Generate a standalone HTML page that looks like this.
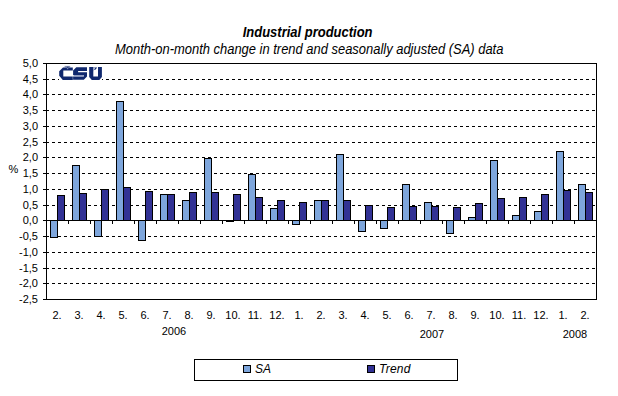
<!DOCTYPE html>
<html><head><meta charset="utf-8"><style>
html,body{margin:0;padding:0;background:#fff;}
svg{display:block;}
text{font-family:"Liberation Sans",sans-serif;fill:#000;}
</style></head><body>
<svg width="618" height="396" viewBox="0 0 618 396">
<rect x="0" y="0" width="618" height="396" fill="#fff"/>
<g shape-rendering="crispEdges">
<line x1="46" y1="79.5" x2="596" y2="79.5" stroke="#000" stroke-width="1" stroke-dasharray="3 3"/>
<line x1="46" y1="94.5" x2="596" y2="94.5" stroke="#000" stroke-width="1" stroke-dasharray="3 3"/>
<line x1="46" y1="110.5" x2="596" y2="110.5" stroke="#000" stroke-width="1" stroke-dasharray="3 3"/>
<line x1="46" y1="126.5" x2="596" y2="126.5" stroke="#000" stroke-width="1" stroke-dasharray="3 3"/>
<line x1="46" y1="142.5" x2="596" y2="142.5" stroke="#000" stroke-width="1" stroke-dasharray="3 3"/>
<line x1="46" y1="157.5" x2="596" y2="157.5" stroke="#000" stroke-width="1" stroke-dasharray="3 3"/>
<line x1="46" y1="173.5" x2="596" y2="173.5" stroke="#000" stroke-width="1" stroke-dasharray="3 3"/>
<line x1="46" y1="189.5" x2="596" y2="189.5" stroke="#000" stroke-width="1" stroke-dasharray="3 3"/>
<line x1="46" y1="205.5" x2="596" y2="205.5" stroke="#000" stroke-width="1" stroke-dasharray="3 3"/>
<line x1="46" y1="236.5" x2="596" y2="236.5" stroke="#000" stroke-width="1" stroke-dasharray="3 3"/>
<line x1="46" y1="252.5" x2="596" y2="252.5" stroke="#000" stroke-width="1" stroke-dasharray="3 3"/>
<line x1="46" y1="268.5" x2="596" y2="268.5" stroke="#000" stroke-width="1" stroke-dasharray="3 3"/>
<line x1="46" y1="283.5" x2="596" y2="283.5" stroke="#000" stroke-width="1" stroke-dasharray="3 3"/>
<rect x="50" y="220" width="8" height="18" fill="#000"/>
<rect x="51" y="221" width="6" height="16" fill="#7EA6DC"/>
<rect x="72" y="165" width="8" height="56" fill="#000"/>
<rect x="73" y="166" width="6" height="54" fill="#7EA6DC"/>
<rect x="94" y="220" width="8" height="17" fill="#000"/>
<rect x="95" y="221" width="6" height="15" fill="#7EA6DC"/>
<rect x="116" y="101" width="8" height="120" fill="#000"/>
<rect x="117" y="102" width="6" height="118" fill="#7EA6DC"/>
<rect x="138" y="220" width="8" height="21" fill="#000"/>
<rect x="139" y="221" width="6" height="19" fill="#7EA6DC"/>
<rect x="160" y="194" width="8" height="27" fill="#000"/>
<rect x="161" y="195" width="6" height="25" fill="#7EA6DC"/>
<rect x="182" y="200" width="8" height="21" fill="#000"/>
<rect x="183" y="201" width="6" height="19" fill="#7EA6DC"/>
<rect x="204" y="158" width="8" height="63" fill="#000"/>
<rect x="205" y="159" width="6" height="61" fill="#7EA6DC"/>
<rect x="226" y="220" width="8" height="2" fill="#000"/>
<rect x="248" y="174" width="8" height="47" fill="#000"/>
<rect x="249" y="175" width="6" height="45" fill="#7EA6DC"/>
<rect x="270" y="208" width="8" height="13" fill="#000"/>
<rect x="271" y="209" width="6" height="11" fill="#7EA6DC"/>
<rect x="292" y="220" width="8" height="5" fill="#000"/>
<rect x="293" y="221" width="6" height="3" fill="#7EA6DC"/>
<rect x="314" y="200" width="8" height="21" fill="#000"/>
<rect x="315" y="201" width="6" height="19" fill="#7EA6DC"/>
<rect x="336" y="154" width="8" height="67" fill="#000"/>
<rect x="337" y="155" width="6" height="65" fill="#7EA6DC"/>
<rect x="358" y="220" width="8" height="12" fill="#000"/>
<rect x="359" y="221" width="6" height="10" fill="#7EA6DC"/>
<rect x="380" y="220" width="8" height="9" fill="#000"/>
<rect x="381" y="221" width="6" height="7" fill="#7EA6DC"/>
<rect x="402" y="184" width="8" height="37" fill="#000"/>
<rect x="403" y="185" width="6" height="35" fill="#7EA6DC"/>
<rect x="424" y="202" width="8" height="19" fill="#000"/>
<rect x="425" y="203" width="6" height="17" fill="#7EA6DC"/>
<rect x="446" y="220" width="8" height="14" fill="#000"/>
<rect x="447" y="221" width="6" height="12" fill="#7EA6DC"/>
<rect x="468" y="217" width="8" height="4" fill="#000"/>
<rect x="469" y="218" width="6" height="2" fill="#7EA6DC"/>
<rect x="490" y="160" width="8" height="61" fill="#000"/>
<rect x="491" y="161" width="6" height="59" fill="#7EA6DC"/>
<rect x="512" y="215" width="8" height="6" fill="#000"/>
<rect x="513" y="216" width="6" height="4" fill="#7EA6DC"/>
<rect x="534" y="211" width="8" height="10" fill="#000"/>
<rect x="535" y="212" width="6" height="8" fill="#7EA6DC"/>
<rect x="556" y="151" width="8" height="70" fill="#000"/>
<rect x="557" y="152" width="6" height="68" fill="#7EA6DC"/>
<rect x="578" y="184" width="8" height="37" fill="#000"/>
<rect x="579" y="185" width="6" height="35" fill="#7EA6DC"/>
<rect x="57" y="195" width="8" height="26" fill="#000"/>
<rect x="58" y="196" width="6" height="24" fill="#323295"/>
<rect x="79" y="193" width="8" height="28" fill="#000"/>
<rect x="80" y="194" width="6" height="26" fill="#323295"/>
<rect x="101" y="189" width="8" height="32" fill="#000"/>
<rect x="102" y="190" width="6" height="30" fill="#323295"/>
<rect x="123" y="187" width="8" height="34" fill="#000"/>
<rect x="124" y="188" width="6" height="32" fill="#323295"/>
<rect x="145" y="191" width="8" height="30" fill="#000"/>
<rect x="146" y="192" width="6" height="28" fill="#323295"/>
<rect x="167" y="194" width="8" height="27" fill="#000"/>
<rect x="168" y="195" width="6" height="25" fill="#323295"/>
<rect x="189" y="192" width="8" height="29" fill="#000"/>
<rect x="190" y="193" width="6" height="27" fill="#323295"/>
<rect x="211" y="192" width="8" height="29" fill="#000"/>
<rect x="212" y="193" width="6" height="27" fill="#323295"/>
<rect x="233" y="194" width="8" height="27" fill="#000"/>
<rect x="234" y="195" width="6" height="25" fill="#323295"/>
<rect x="255" y="197" width="8" height="24" fill="#000"/>
<rect x="256" y="198" width="6" height="22" fill="#323295"/>
<rect x="277" y="200" width="8" height="21" fill="#000"/>
<rect x="278" y="201" width="6" height="19" fill="#323295"/>
<rect x="299" y="202" width="8" height="19" fill="#000"/>
<rect x="300" y="203" width="6" height="17" fill="#323295"/>
<rect x="321" y="200" width="8" height="21" fill="#000"/>
<rect x="322" y="201" width="6" height="19" fill="#323295"/>
<rect x="343" y="200" width="8" height="21" fill="#000"/>
<rect x="344" y="201" width="6" height="19" fill="#323295"/>
<rect x="365" y="205" width="8" height="16" fill="#000"/>
<rect x="366" y="206" width="6" height="14" fill="#323295"/>
<rect x="387" y="207" width="8" height="14" fill="#000"/>
<rect x="388" y="208" width="6" height="12" fill="#323295"/>
<rect x="409" y="206" width="8" height="15" fill="#000"/>
<rect x="410" y="207" width="6" height="13" fill="#323295"/>
<rect x="431" y="206" width="8" height="15" fill="#000"/>
<rect x="432" y="207" width="6" height="13" fill="#323295"/>
<rect x="453" y="207" width="8" height="14" fill="#000"/>
<rect x="454" y="208" width="6" height="12" fill="#323295"/>
<rect x="475" y="203" width="8" height="18" fill="#000"/>
<rect x="476" y="204" width="6" height="16" fill="#323295"/>
<rect x="497" y="198" width="8" height="23" fill="#000"/>
<rect x="498" y="199" width="6" height="21" fill="#323295"/>
<rect x="519" y="197" width="8" height="24" fill="#000"/>
<rect x="520" y="198" width="6" height="22" fill="#323295"/>
<rect x="541" y="194" width="8" height="27" fill="#000"/>
<rect x="542" y="195" width="6" height="25" fill="#323295"/>
<rect x="563" y="190" width="8" height="31" fill="#000"/>
<rect x="564" y="191" width="6" height="29" fill="#323295"/>
<rect x="585" y="192" width="8" height="29" fill="#000"/>
<rect x="586" y="193" width="6" height="27" fill="#323295"/>
<rect x="46" y="63" width="551" height="1" fill="#000"/>
<rect x="46" y="299" width="551" height="1" fill="#000"/>
<rect x="46" y="63" width="1" height="237" fill="#000"/>
<rect x="596" y="63" width="1" height="237" fill="#000"/>
<rect x="46" y="220" width="551" height="1" fill="#000"/>
<rect x="43" y="63" width="3" height="1" fill="#000"/>
<rect x="43" y="79" width="3" height="1" fill="#000"/>
<rect x="43" y="94" width="3" height="1" fill="#000"/>
<rect x="43" y="110" width="3" height="1" fill="#000"/>
<rect x="43" y="126" width="3" height="1" fill="#000"/>
<rect x="43" y="142" width="3" height="1" fill="#000"/>
<rect x="43" y="157" width="3" height="1" fill="#000"/>
<rect x="43" y="173" width="3" height="1" fill="#000"/>
<rect x="43" y="189" width="3" height="1" fill="#000"/>
<rect x="43" y="205" width="3" height="1" fill="#000"/>
<rect x="43" y="220" width="3" height="1" fill="#000"/>
<rect x="43" y="236" width="3" height="1" fill="#000"/>
<rect x="43" y="252" width="3" height="1" fill="#000"/>
<rect x="43" y="268" width="3" height="1" fill="#000"/>
<rect x="43" y="283" width="3" height="1" fill="#000"/>
<rect x="43" y="299" width="3" height="1" fill="#000"/>
<rect x="68" y="221" width="1" height="3" fill="#000"/>
<rect x="90" y="221" width="1" height="3" fill="#000"/>
<rect x="112" y="221" width="1" height="3" fill="#000"/>
<rect x="134" y="221" width="1" height="3" fill="#000"/>
<rect x="156" y="221" width="1" height="3" fill="#000"/>
<rect x="178" y="221" width="1" height="3" fill="#000"/>
<rect x="200" y="221" width="1" height="3" fill="#000"/>
<rect x="222" y="221" width="1" height="3" fill="#000"/>
<rect x="244" y="221" width="1" height="3" fill="#000"/>
<rect x="266" y="221" width="1" height="3" fill="#000"/>
<rect x="288" y="221" width="1" height="3" fill="#000"/>
<rect x="310" y="221" width="1" height="3" fill="#000"/>
<rect x="332" y="221" width="1" height="3" fill="#000"/>
<rect x="354" y="221" width="1" height="3" fill="#000"/>
<rect x="376" y="221" width="1" height="3" fill="#000"/>
<rect x="398" y="221" width="1" height="3" fill="#000"/>
<rect x="420" y="221" width="1" height="3" fill="#000"/>
<rect x="442" y="221" width="1" height="3" fill="#000"/>
<rect x="464" y="221" width="1" height="3" fill="#000"/>
<rect x="486" y="221" width="1" height="3" fill="#000"/>
<rect x="508" y="221" width="1" height="3" fill="#000"/>
<rect x="530" y="221" width="1" height="3" fill="#000"/>
<rect x="552" y="221" width="1" height="3" fill="#000"/>
<rect x="574" y="221" width="1" height="3" fill="#000"/>
<rect x="194" y="359" width="264" height="1" fill="#000"/>
<rect x="194" y="380" width="264" height="1" fill="#000"/>
<rect x="194" y="359" width="1" height="22" fill="#000"/>
<rect x="457" y="359" width="1" height="22" fill="#000"/>
<rect x="243" y="365" width="8" height="8" fill="#000"/>
<rect x="244" y="366" width="6" height="6" fill="#7EA6DC"/>
<rect x="367" y="365" width="8" height="8" fill="#000"/>
<rect x="368" y="366" width="6" height="6" fill="#323295"/>
</g>
<g>
<rect x="59" y="64" width="43" height="17" fill="#fff"/>
<g fill="#10286E">
<polygon points="63.0,67.4 72.8,67.4 72.8,70.6 63.3,70.6 63.3,76.5 72.8,76.5 72.8,79.9 62.8,79.9 59.2,75.8 59.2,71.3"/>
<rect x="64.6" y="65.9" width="5.6" height="1.5" fill-opacity="0.5"/>
<polygon points="66.6,66.7 68.9,66.7 67.8,68"/>
<polygon points="76.3,67.2 87,67.2 87,71 78.1,71 78.1,72.2 87,72.2 87,76.4 83.8,79.7 73.1,79.7 73.1,76.5 83.8,76.5 83.8,75.1 73.1,75.1 73.1,70.4"/>
<polygon points="89.2,67 93.3,67 93.3,76.5 98,76.5 98,67 101.9,67 101.9,77 99.3,79.9 91.8,79.9 89.2,77"/>
<rect x="93.3" y="67" width="3.6" height="1" fill-opacity="0.4"/>
<polygon points="95.3,67.8 97.0,67.8 95.4,69.8 93.9,69.8"/>
<polygon points="93.3,68 94.6,68 93.8,71.2 93.3,71.2" fill-opacity="0.25"/>
</g>
<polygon points="66.6,68.1 68.6,68.1 67.6,69.6" fill="#8090B8"/>
<rect x="73.6" y="75.1" width="10.2" height="1.4" fill="#8794BC"/>
</g>
<text x="38" y="67" font-size="11" text-anchor="end">5,0</text>
<text x="38" y="83" font-size="11" text-anchor="end">4,5</text>
<text x="38" y="98" font-size="11" text-anchor="end">4,0</text>
<text x="38" y="114" font-size="11" text-anchor="end">3,5</text>
<text x="38" y="130" font-size="11" text-anchor="end">3,0</text>
<text x="38" y="146" font-size="11" text-anchor="end">2,5</text>
<text x="38" y="161" font-size="11" text-anchor="end">2,0</text>
<text x="38" y="177" font-size="11" text-anchor="end">1,5</text>
<text x="38" y="193" font-size="11" text-anchor="end">1,0</text>
<text x="38" y="209" font-size="11" text-anchor="end">0,5</text>
<text x="38" y="224" font-size="11" text-anchor="end">0,0</text>
<text x="38" y="240" font-size="11" text-anchor="end">-0,5</text>
<text x="38" y="256" font-size="11" text-anchor="end">-1,0</text>
<text x="38" y="272" font-size="11" text-anchor="end">-1,5</text>
<text x="38" y="287" font-size="11" text-anchor="end">-2,0</text>
<text x="38" y="303" font-size="11" text-anchor="end">-2,5</text>
<text x="57" y="319" font-size="11" text-anchor="middle">2.</text>
<text x="79" y="319" font-size="11" text-anchor="middle">3.</text>
<text x="101" y="319" font-size="11" text-anchor="middle">4.</text>
<text x="123" y="319" font-size="11" text-anchor="middle">5.</text>
<text x="145" y="319" font-size="11" text-anchor="middle">6.</text>
<text x="167" y="319" font-size="11" text-anchor="middle">7.</text>
<text x="189" y="319" font-size="11" text-anchor="middle">8.</text>
<text x="211" y="319" font-size="11" text-anchor="middle">9.</text>
<text x="233" y="319" font-size="11" text-anchor="middle">10.</text>
<text x="255" y="319" font-size="11" text-anchor="middle">11.</text>
<text x="277" y="319" font-size="11" text-anchor="middle">12.</text>
<text x="299" y="319" font-size="11" text-anchor="middle">1.</text>
<text x="321" y="319" font-size="11" text-anchor="middle">2.</text>
<text x="343" y="319" font-size="11" text-anchor="middle">3.</text>
<text x="365" y="319" font-size="11" text-anchor="middle">4.</text>
<text x="387" y="319" font-size="11" text-anchor="middle">5.</text>
<text x="409" y="319" font-size="11" text-anchor="middle">6.</text>
<text x="431" y="319" font-size="11" text-anchor="middle">7.</text>
<text x="453" y="319" font-size="11" text-anchor="middle">8.</text>
<text x="475" y="319" font-size="11" text-anchor="middle">9.</text>
<text x="497" y="319" font-size="11" text-anchor="middle">10.</text>
<text x="519" y="319" font-size="11" text-anchor="middle">11.</text>
<text x="541" y="319" font-size="11" text-anchor="middle">12.</text>
<text x="563" y="319" font-size="11" text-anchor="middle">1.</text>
<text x="585" y="319" font-size="11" text-anchor="middle">2.</text>
<text x="174" y="335" font-size="11" text-anchor="middle">2006</text>
<text x="432" y="338" font-size="11" text-anchor="middle">2007</text>
<text x="575" y="338" font-size="11" text-anchor="middle">2008</text>
<text x="13.4" y="173" font-size="11" text-anchor="middle">%</text>
<text transform="translate(307.6,37) scale(1,1.09)" x="0" y="0" font-size="13" font-weight="bold" font-style="italic" text-anchor="middle">Industrial production</text>
<text transform="translate(309.2,54) scale(0.996,1.09)" x="0" y="0" font-size="13" font-style="italic" text-anchor="middle">Month-on-month change in trend and seasonally adjusted (SA) data</text>
<text x="255" y="373" font-size="12" font-style="italic">SA</text>
<text x="379" y="373" font-size="12" font-style="italic" letter-spacing="0.25">Trend</text>
</svg>
</body></html>
